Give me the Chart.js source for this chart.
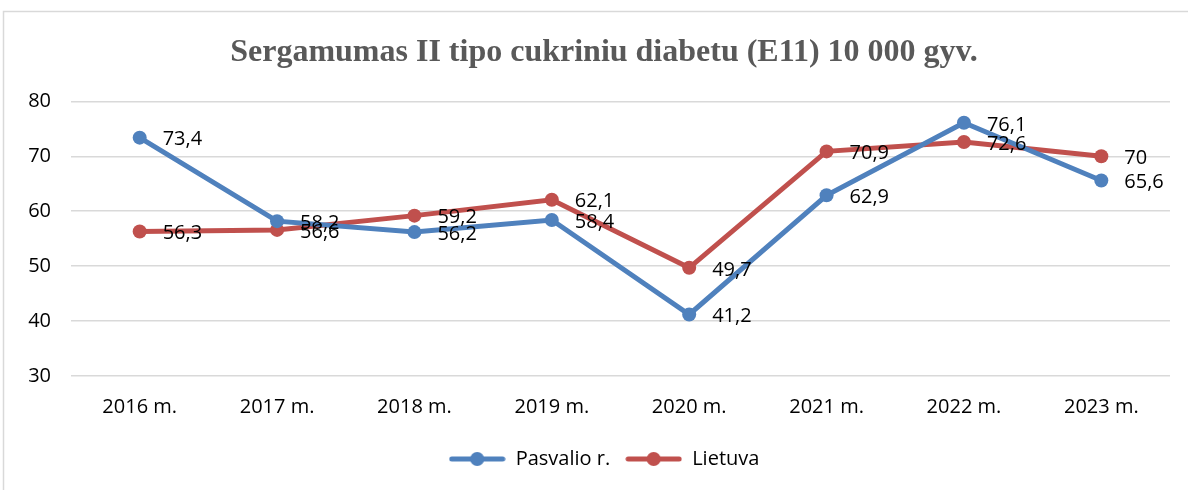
<!DOCTYPE html>
<html>
<head>
<meta charset="utf-8">
<script src="https://cdn.jsdelivr.net/npm/chart.js@4"></script>
<style>
  body { margin: 0; background: #fff; }
  #wrap { width: 1188px; height: 490px; }
</style>
</head>
<body>
<div id="wrap"><canvas id="chart" width="1188" height="490"></canvas></div>
<script>
"use strict"

// categories and values
const years = ["2016 m.", "2017 m.", "2018 m.", "2019 m.", "2020 m.", "2021 m.", "2022 m.", "2023 m."];
const pasvalio = [73.4, 58.2, 56.2, 58.4, 41.2, 62.9, 76.1, 65.6];
const lietuva = [56.3, 56.6, 59.2, 62.1, 49.7, 70.9, 72.6, 70];
const yTicks = [30, 40, 50, 60, 70, 80];

const blue = "#4F81BD";
const red = "#C0504D";
const font = "'Open Sans', 'Noto Sans', sans-serif";

// legend marker: short line with a dot in the middle
const legendMarker = (color) => {
    const c = document.createElement("canvas");
    c.width = 57;
    c.height = 16;
    const g = c.getContext("2d");
    g.strokeStyle = color;
    g.lineWidth = 5;
    g.lineCap = "round";
    g.beginPath();
    g.moveTo(3, 8);
    g.lineTo(54, 8);
    g.stroke();
    g.fillStyle = color;
    g.beginPath();
    g.arc(28.5, 8, 7, 0, Math.PI * 2);
    g.fill();
    return c;
};

// outer frame like the original chart box
const framePlugin = {
    id: "frame",
    beforeDraw(chart) {
        const ctx = chart.ctx;
        ctx.save();
        ctx.strokeStyle = "#d9d9d9";
        ctx.lineWidth = 1.5;
        ctx.strokeRect(3.5, 11.5, 1195, 490);
        ctx.restore();
    }
};

// value labels to the right of each point, comma decimals
const labelPlugin = {
    id: "valueLabels",
    afterDatasetsDraw(chart) {
        const ctx = chart.ctx;
        ctx.save();
        ctx.font = "20px " + font;
        ctx.fillStyle = "#000";
        ctx.textBaseline = "middle";
        ctx.textAlign = "left";
        chart.data.datasets.forEach((ds, i) => {
            const meta = chart.getDatasetMeta(i);
            meta.data.forEach((pt, j) => {
                const txt = String(ds.data[j]).replace(".", ",");
                ctx.fillText(txt, pt.x + 23, pt.y + 2);
            });
        });
        ctx.restore();
    }
};

const ctx = document.getElementById("chart");

new Chart(ctx, {
    type: "line",
    data: {
        labels: years,
        datasets: [{
            label: "Pasvalio r.",
            data: pasvalio,
            borderColor: blue,
            backgroundColor: blue,
            borderWidth: 5,
            pointRadius: 7,
            pointHoverRadius: 7,
            pointBorderWidth: 0,
            pointStyle: "circle",
            tension: 0
        },
        {
            label: "Lietuva",
            data: lietuva,
            borderColor: red,
            backgroundColor: red,
            borderWidth: 5,
            pointRadius: 7,
            pointHoverRadius: 7,
            pointBorderWidth: 0,
            pointStyle: "circle",
            tension: 0
        }]
    },
    options: {
        responsive: false,
        animation: false,
        events: [],
        layout: { padding: { left: 20, right: 0, top: 0, bottom: 11 } },
        plugins: {
            title: {
                display: true,
                text: "Sergamumas II tipo cukriniu diabetu (E11) 10 000 gyv.",
                color: "#595959",
                font: { family: "'Liberation Serif', 'DejaVu Serif', serif", size: 32, weight: "bold" },
                padding: { top: 34, bottom: 29 }
            },
            legend: {
                position: "bottom",
                labels: {
                    color: "#000",
                    font: { family: font, size: 20 },
                    usePointStyle: true,
                    pointStyleWidth: 57,
                    padding: 15,
                    generateLabels(chart) {
                        return chart.data.datasets.map((ds, i) => ({
                            text: ds.label,
                            fontColor: "#000",
                            pointStyle: legendMarker(ds.borderColor),
                            lineWidth: 0,
                            strokeStyle: "transparent",
                            fillStyle: ds.borderColor,
                            datasetIndex: i
                        }));
                    }
                }
            },
            tooltip: { enabled: false }
        },
        scales: {
            x: {
                offset: true,
                grid: { display: false, drawTicks: false },
                border: { display: false },
                ticks: { color: "#000", font: { family: font, size: 20 }, padding: 19 },
                afterFit(scale) { scale.height = 58; }
            },
            y: {
                min: 30,
                max: 80,
                afterBuildTicks(scale) { scale.ticks = yTicks.map(v => ({ value: v })); },
                grid: { color: "#d9d9d9", lineWidth: 1.5, drawTicks: false },
                border: { display: false },
                ticks: { color: "#000", font: { family: font, size: 20 }, padding: 20 },
                afterFit(scale) { scale.width = 51; }
            },
            // empty right axis, only keeps a margin right of the plot
            yRight: {
                position: "right",
                min: 30,
                max: 80,
                grid: { display: false, drawTicks: false },
                border: { display: false },
                ticks: { display: false },
                afterFit(scale) { scale.width = 18; }
            }
        }
    },
    plugins: [framePlugin, labelPlugin]
});
</script>
</body>
</html>
